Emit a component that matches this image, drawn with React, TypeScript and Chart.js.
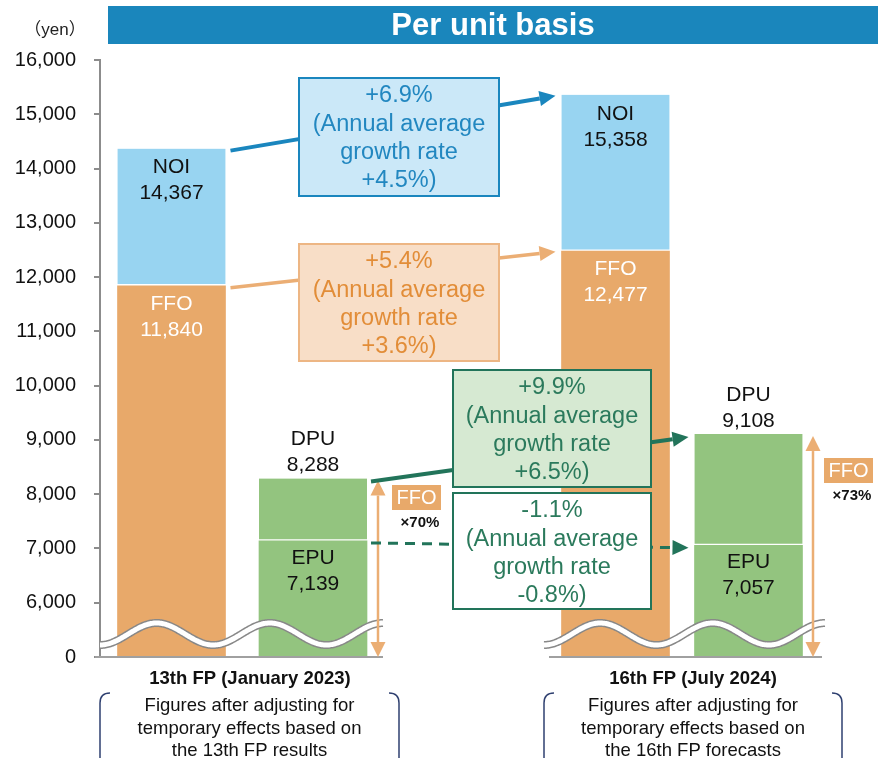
import React, { useEffect, useRef } from 'react';
import { Chart, registerables } from 'chart.js';

Chart.register(...registerables);

const FONT = "'Liberation Sans', Arial, Helvetica, sans-serif";

// ---------------- data ----------------
const TITLE = 'Per unit basis';
const UNIT = '（yen）';
const PERIODS = ['13th FP (January 2023)', '16th FP (July 2024)'];
const NOI = [14367, 15358];
const FFO = [11840, 12477];
const DPU = [8288, 9108];
const EPU = [7139, 7057];
const FFO_RATIO = ['×70%', '×73%'];
const GROWTH_NOI = ['+6.9%', '(Annual average', 'growth rate', '+4.5%)'];
const GROWTH_FFO = ['+5.4%', '(Annual average', 'growth rate', '+3.6%)'];
const GROWTH_DPU = ['+9.9%', '(Annual average', 'growth rate', '+6.5%)'];
const GROWTH_EPU = ['-1.1%', '(Annual average', 'growth rate', '-0.8%)'];
const NOTES = [
  ['Figures after adjusting for', 'temporary effects based on', 'the 13th FP results'],
  ['Figures after adjusting for', 'temporary effects based on', 'the 16th FP forecasts'],
];
// y axis is broken: the lowest tick (5,000) is shown as "0"
const Y_MIN = 5000;
const Y_MAX = 16000;
const Y_STEP = 1000;

// ---------------- layout ----------------
const W = 878;
const H = 758;
const X_RANGE = 778;
const X_NOI_FFO = [71.5, 515.5];
const X_DPU_EPU = [213, 648.5];
const BAR_W = 108;

const C_ORANGE = '#E8A96A';
const C_BLUE = '#98D4F1';
const C_GREEN = '#93C47F';
const C_TITLE = '#1A86BC';
const C_ARROW_BLUE = '#1A86BE';
const C_ARROW_ORANGE = '#EBAE74';
const C_DKGREEN = '#22745A';

function drawArrow(ctx: CanvasRenderingContext2D, x1: number, y1: number, x2: number, y2: number,
  color: string, width: number, head = 15, half = 7.5, dash: number[] | null = null, both = false) {
  const ang = Math.atan2(y2 - y1, x2 - x1);
  const c = Math.cos(ang), s = Math.sin(ang);
  const bx = x2 - head * c, by = y2 - head * s;
  const sx = both ? x1 + head * c : x1, sy = both ? y1 + head * s : y1;
  ctx.save();
  ctx.strokeStyle = color;
  ctx.fillStyle = color;
  ctx.lineWidth = width;
  if (dash) ctx.setLineDash(dash);
  ctx.beginPath();
  ctx.moveTo(sx, sy);
  ctx.lineTo(bx, by);
  ctx.stroke();
  ctx.setLineDash([]);
  const headAt = (tx: number, ty: number, hx: number, hy: number) => {
    ctx.beginPath();
    ctx.moveTo(tx, ty);
    ctx.lineTo(hx + half * s, hy - half * c);
    ctx.lineTo(hx - half * s, hy + half * c);
    ctx.closePath();
    ctx.fill();
  };
  headAt(x2, y2, bx, by);
  if (both) headAt(x1, y1, sx, sy);
  ctx.restore();
}

function drawBox(ctx: CanvasRenderingContext2D, x: number, y: number, w: number, h: number,
  fill: string, stroke: string, textColor: string, lines: string[]) {
  ctx.save();
  ctx.fillStyle = fill;
  ctx.fillRect(x, y, w, h);
  ctx.strokeStyle = stroke;
  ctx.lineWidth = 2;
  ctx.strokeRect(x, y, w, h);
  ctx.fillStyle = textColor;
  ctx.font = `23.5px ${FONT}`;
  ctx.textAlign = 'center';
  ctx.textBaseline = 'middle';
  lines.forEach((t, i) => ctx.fillText(t, x + w / 2, y + 18 + i * 28.3));
  ctx.restore();
}

function drawWave(ctx: CanvasRenderingContext2D, x0: number, x1: number) {
  const P = (x1 - x0) / 2.5;
  const c = 634, A = 11;
  ctx.save();
  ctx.beginPath();
  for (let x = x0; x <= x1; x += 1) {
    const y = c + A * Math.cos((2 * Math.PI * (x - x0)) / P);
    if (x === x0) ctx.moveTo(x, y); else ctx.lineTo(x, y);
  }
  ctx.lineCap = 'butt';
  ctx.strokeStyle = '#888888';
  ctx.lineWidth = 8;
  ctx.stroke();
  ctx.strokeStyle = '#FFFFFF';
  ctx.lineWidth = 5;
  ctx.stroke();
  ctx.restore();
}

function drawBracket(ctx: CanvasRenderingContext2D, xl: number, xr: number, yTop: number, yBot: number) {
  const r = 10;
  ctx.save();
  ctx.strokeStyle = '#2F4070';
  ctx.lineWidth = 1.5;
  ctx.beginPath();
  ctx.moveTo(xl + r, yTop);
  ctx.quadraticCurveTo(xl, yTop, xl, yTop + r);
  ctx.lineTo(xl, yBot);
  ctx.moveTo(xr - r, yTop);
  ctx.quadraticCurveTo(xr, yTop, xr, yTop + r);
  ctx.lineTo(xr, yBot);
  ctx.stroke();
  ctx.restore();
}

const decorPlugin = {
  id: 'decor',
  beforeDraw(chart: any) {
    const ctx: CanvasRenderingContext2D = chart.ctx;
    ctx.save();
    ctx.fillStyle = '#FFFFFF';
    ctx.fillRect(0, 0, W, H);
    // title banner
    ctx.fillStyle = C_TITLE;
    ctx.fillRect(108, 6, W - 108, 38);
    ctx.fillStyle = '#FFFFFF';
    ctx.font = `bold 31px ${FONT}`;
    ctx.textAlign = 'center';
    ctx.textBaseline = 'middle';
    ctx.fillText(TITLE, (108 + W) / 2, 26);
    // unit
    ctx.fillStyle = '#222';
    ctx.font = `17px ${FONT}, 'Noto Sans CJK JP'`;
    ctx.fillText(UNIT, 55, 30);
    ctx.restore();
  },
  afterDatasetsDraw(chart: any) {
    const ctx: CanvasRenderingContext2D = chart.ctx;
    const xs = chart.scales.x;
    const ys = chart.scales.y;
    const py = (v: number) => ys.getPixelForValue(v);
    const base = ys.bottom;
    const cx1 = X_NOI_FFO.map((v) => xs.getPixelForValue(v));
    const cx2 = X_DPU_EPU.map((v) => xs.getPixelForValue(v));
    const hw = BAR_W / 2;

    // bar labels
    ctx.save();
    ctx.font = `21px ${FONT}`;
    ctx.textAlign = 'center';
    ctx.textBaseline = 'middle';
    for (let i = 0; i < PERIODS.length; i++) {
      ctx.fillStyle = '#111';
      ctx.fillText('NOI', cx1[i], py(NOI[i]) + 19);
      ctx.fillText(NOI[i].toLocaleString('en-US'), cx1[i], py(NOI[i]) + 45);
      ctx.fillStyle = '#FFFFFF';
      ctx.fillText('FFO', cx1[i], py(FFO[i]) + 18);
      ctx.fillText(FFO[i].toLocaleString('en-US'), cx1[i], py(FFO[i]) + 44);
      ctx.fillStyle = '#111';
      ctx.fillText('DPU', cx2[i], py(DPU[i]) - 39);
      ctx.fillText(DPU[i].toLocaleString('en-US'), cx2[i], py(DPU[i]) - 13);
      ctx.fillText('EPU', cx2[i], py(EPU[i]) + 17);
      ctx.fillText(EPU[i].toLocaleString('en-US'), cx2[i], py(EPU[i]) + 43);
    }
    ctx.restore();

    // baseline segments
    ctx.save();
    ctx.strokeStyle = '#A0A0A0';
    ctx.lineWidth = 2;
    ctx.beginPath();
    ctx.moveTo(95, base); ctx.lineTo(383, base);
    ctx.moveTo(549, base); ctx.lineTo(822, base);
    ctx.stroke();
    ctx.restore();

    // axis break waves
    drawWave(ctx, 100, 383);
    drawWave(ctx, 544, 825);

    // FFO payout dimension arrows
    const dimX = [cx2[0] + hw + 11, cx2[1] + hw + 10.5];
    const dimBox = [
      { x: 392, y: 485 },
      { x: 824, y: 458 },
    ];
    for (let i = 0; i < PERIODS.length; i++) {
      drawArrow(ctx, dimX[i], py(DPU[i]) + 2, dimX[i], base, C_ARROW_ORANGE, 2.5, 15, 7.5, null, true);
      ctx.save();
      ctx.fillStyle = C_ORANGE;
      ctx.fillRect(dimBox[i].x, dimBox[i].y, 49, 25);
      ctx.fillStyle = '#FFFFFF';
      ctx.font = `20px ${FONT}`;
      ctx.textAlign = 'center';
      ctx.textBaseline = 'middle';
      ctx.fillText('FFO', dimBox[i].x + 24.5, dimBox[i].y + 13);
      ctx.fillStyle = '#111';
      ctx.font = `bold 15px ${FONT}`;
      ctx.fillText(FFO_RATIO[i], dimBox[i].x + 28, dimBox[i].y + 38);
      ctx.restore();
    }

    // growth arrows
    drawArrow(ctx, cx1[0] + hw + 5, py(NOI[0]) + 2, cx1[1] - hw - 6, py(NOI[1]) + 1, C_ARROW_BLUE, 4, 16, 7.5);
    drawArrow(ctx, cx1[0] + hw + 5, py(FFO[0]) + 2, cx1[1] - hw - 6, py(FFO[1]) + 0.5, C_ARROW_ORANGE, 3.5, 16, 7.5);
    drawArrow(ctx, cx2[0] + hw + 4, py(DPU[0]) + 3, cx2[1] - hw - 6, py(DPU[1]) + 3, C_DKGREEN, 4, 16, 7.5);
    drawArrow(ctx, cx2[0] + hw + 4, py(EPU[0]) + 2, cx2[1] - hw - 6, py(EPU[1]) + 2.5, C_DKGREEN, 3, 16, 7.5, [10, 7]);

    // growth boxes
    drawBox(ctx, 299, 78, 200, 118, '#CBE8F8', C_ARROW_BLUE, '#2287C0', GROWTH_NOI);
    drawBox(ctx, 299, 244, 200, 117, '#F8DEC7', '#EDB684', '#E28D38', GROWTH_FFO);
    drawBox(ctx, 453, 370, 198, 117, '#D6E9D2', C_DKGREEN, '#2B7A5C', GROWTH_DPU);
    drawBox(ctx, 453, 493, 198, 116, '#FFFFFF', C_DKGREEN, '#2B7A5C', GROWTH_EPU);

    // period labels and notes
    const labelX = [xs.getPixelForValue(150), xs.getPixelForValue(593)];
    const bracket = [[100, 399], [544, 842]];
    ctx.save();
    ctx.textAlign = 'center';
    ctx.textBaseline = 'middle';
    for (let i = 0; i < PERIODS.length; i++) {
      ctx.fillStyle = '#111';
      ctx.font = `bold 18.5px ${FONT}`;
      ctx.fillText(PERIODS[i], labelX[i], 679);
      drawBracket(ctx, bracket[i][0], bracket[i][1], 693, H + 5);
      ctx.fillStyle = '#111';
      ctx.font = `18.5px ${FONT}`;
      NOTES[i].forEach((t, k) => ctx.fillText(t, (bracket[i][0] + bracket[i][1]) / 2, 706 + k * 22.5));
    }
    ctx.restore();
  },
};

export default function App() {
  const ref = useRef<HTMLCanvasElement | null>(null);
  useEffect(() => {
    if (!ref.current) return;
    Chart.defaults.font.family = FONT;
    const mk = (vals: (i: number) => [number, number], xs: number[]) =>
      PERIODS.map((_, i) => ({ x: xs[i], y: vals(i) }));
    const chart = new Chart(ref.current, {
      type: 'bar',
      data: {
        datasets: [
          { label: 'FFO', data: mk((i) => [Y_MIN, FFO[i]], X_NOI_FFO), backgroundColor: C_ORANGE, borderWidth: 0 },
          {
            label: 'NOI', data: mk((i) => [FFO[i], NOI[i]], X_NOI_FFO), backgroundColor: C_BLUE,
            borderColor: '#FFFFFF', borderWidth: { top: 0, right: 0, bottom: 2, left: 0 }, borderSkipped: false,
          },
          { label: 'EPU', data: mk((i) => [Y_MIN, EPU[i]], X_DPU_EPU), backgroundColor: C_GREEN, borderWidth: 0 },
          {
            label: 'DPU', data: mk((i) => [EPU[i], DPU[i]], X_DPU_EPU), backgroundColor: C_GREEN,
            borderColor: '#FFFFFF', borderWidth: { top: 0, right: 0, bottom: 2, left: 0 }, borderSkipped: false,
          },
        ] as any,
      },
      options: {
        responsive: false,
        animation: false,
        devicePixelRatio: 1,
        layout: { padding: { top: 60, bottom: H - 657, left: 0, right: 0 } },
        datasets: { bar: { grouped: false, barThickness: BAR_W } as any },
        plugins: { legend: { display: false }, tooltip: { enabled: false }, title: { display: false } },
        scales: {
          x: { type: 'linear', min: 0, max: X_RANGE, display: false, offset: false, grid: { offset: false } },
          y: {
            min: Y_MIN,
            max: Y_MAX,
            afterFit: (s: any) => { s.width = 100; },
            ticks: {
              stepSize: Y_STEP,
              padding: 18,
              color: '#111',
              font: { size: 20, family: FONT },
              callback: (v: any) => (Number(v) === Y_MIN ? '0' : Number(v).toLocaleString('en-US')),
            },
            grid: { drawOnChartArea: false, drawTicks: true, tickLength: 6, color: '#8C8C8C', lineWidth: 2 },
            border: { display: true, color: '#8C8C8C', width: 2 },
          },
        },
      } as any,
      plugins: [decorPlugin],
    });
    return () => chart.destroy();
  }, []);
  return (
    <div style={{ position: 'fixed', left: 0, top: 0, width: W, height: H, background: '#fff' }}>
      <canvas ref={ref} width={W} height={H} style={{ display: 'block', width: W, height: H }} />
    </div>
  );
}
